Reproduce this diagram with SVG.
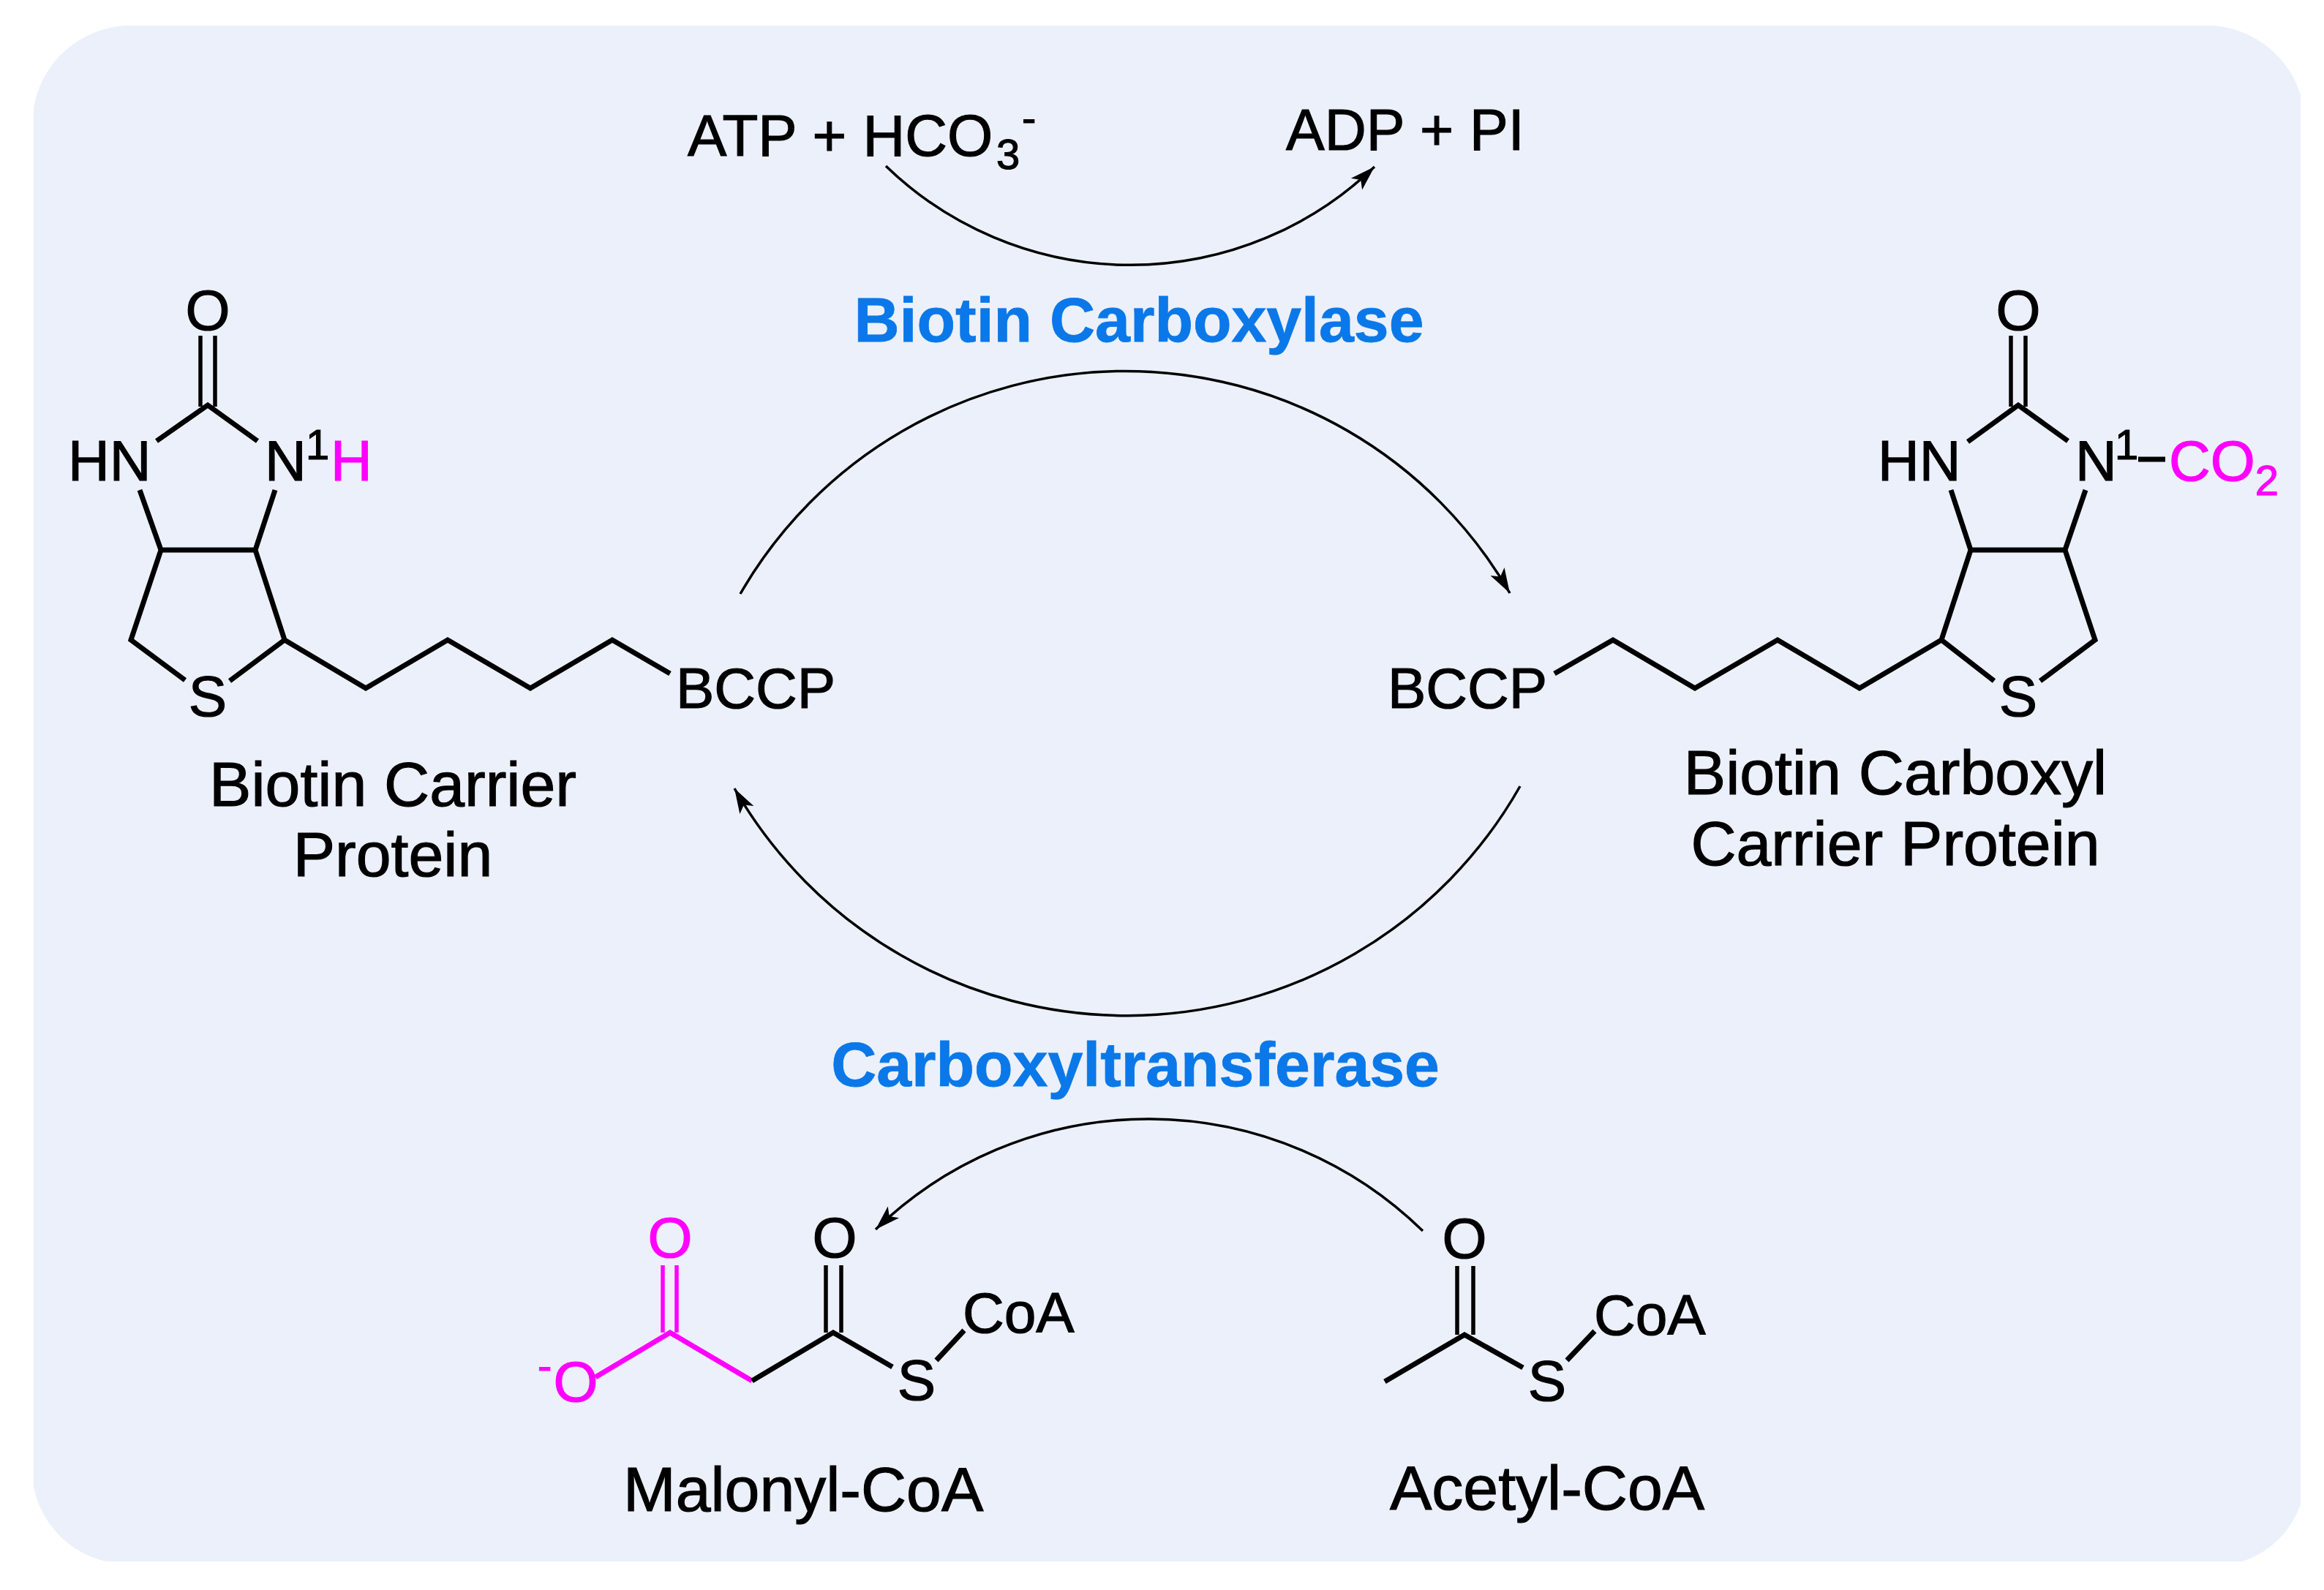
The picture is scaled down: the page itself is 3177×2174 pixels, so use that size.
<svg xmlns="http://www.w3.org/2000/svg" width="3177" height="2174" viewBox="0 0 3177 2174">
<style>
text{font-family:"Liberation Sans",Arial,sans-serif;font-size:78.5px;fill:#000;stroke:#000;stroke-width:1.2}
.lab{font-size:86px}
.enz{font-size:86px;font-weight:bold;fill:#0a78e8;stroke:#0a78e8;stroke-width:.8;text-anchor:middle}
.mid{text-anchor:middle}
.sup{font-size:58px}
.m{fill:#ff00ff;stroke:#ff00ff}
.b{fill:none;stroke:#000;stroke-width:7;stroke-linejoin:miter}
.d{fill:none;stroke:#000;stroke-width:5.5}
.bm{fill:none;stroke:#ff00ff;stroke-width:7}
.dm{fill:none;stroke:#ff00ff;stroke-width:5.5}
.arc0{fill:none;stroke:#000;stroke-width:3.5}
</style>
<defs>
<marker id="head" markerUnits="userSpaceOnUse" markerWidth="44" markerHeight="30" refX="34" refY="15" orient="auto">
<path d="M34,15 L0,4 L8,15 L0,26 Z" fill="#000"/>
</marker>
</defs>
<rect width="3177" height="2174" fill="#fff"/>
<path id="panel" d="M173,35 H3027 A135,135 0 0 1 3145,130 V2057 A125,125 0 0 1 3065,2135 H145 A130,130 0 0 1 46,2033 V147 A135,135 0 0 1 173,35 Z" fill="#ecf0fa"/>

<g id="connectors">
<path class="arc0" d="M1211,227 A481,481 0 0 0 1879,228" marker-end="url(#head)"/>
<path class="arc0" d="M1012,812 A607,607 0 0 1 2064,811" marker-end="url(#head)"/>
<path class="arc0" d="M2078,1075 A618,618 0 0 1 1004,1078" marker-end="url(#head)"/>
<path class="arc0" d="M1945,1683 A536,536 0 0 0 1197,1681" marker-end="url(#head)"/>
</g>

<g id="atp"><text x="940" y="213" style="font-size:80px">ATP + HCO<tspan x="1362" y="231" class="sup">3</tspan><tspan x="1397" y="181" class="sup">-</tspan></text></g>
<g id="adp"><text x="1758" y="205" style="font-size:79px">ADP + PI</text></g>
<g id="biotin-carboxylase"><text class="enz" x="1557" y="467">Biotin Carboxylase</text></g>
<g id="carboxyltransferase"><text class="enz" x="1552" y="1485">Carboxyltransferase</text></g>

<g id="biotin-carrier-protein">
<path class="d" d="M274,459V556M294,459V556"/>
<path class="b" d="M214,603L284,554L352,603M191,670L220,752H349L376,670M220,752L179,875L253,930M314,931L389,875L349,752M389,875L500,941L612,875L725,941L837,875L916,921"/>
<text class="mid" x="284" y="451">O</text>
<text x="93" y="657">HN</text>
<text x="362" y="657">N</text>
<text class="sup" x="418" y="628">1</text>
<text class="m" x="452" y="657">H</text>
<text class="mid" x="284" y="979">S</text>
<text x="924" y="968">BCCP</text>
<text class="lab mid" x="537" y="1102">Biotin Carrier</text>
<text class="lab mid" x="537" y="1198">Protein</text>
</g>

<g id="biotin-carboxyl-carrier-protein">
<path class="d" d="M2749,459V556M2769,459V556"/>
<path class="b" d="M2690,604L2759,554L2827,603M2667,670L2694,752H2823L2851,670M2694,752L2654,875L2726,931M2823,752L2864,875L2789,931M2654,875L2542,941L2430,875L2317,941L2205,875L2125,921M2923,628H2960"/>
<text class="mid" x="2759" y="451">O</text>
<text x="2567" y="657">HN</text>
<text x="2837" y="657">N</text>
<text class="sup" x="2891" y="628">1</text>
<text class="m" x="2965" y="657">CO<tspan class="sup" y="677">2</tspan></text>
<text class="mid" x="2759" y="979">S</text>
<text x="1897" y="968">BCCP</text>
<text class="lab mid" x="2591" y="1086">Biotin Carboxyl</text>
<text class="lab mid" x="2591" y="1183">Carrier Protein</text>
</g>

<g id="malonyl-coa">
<path class="dm" d="M906,1730V1822M925,1730V1822"/>
<path class="bm" d="M814,1883L916,1822L1028,1888"/>
<path class="d" d="M1129,1730V1822M1150,1730V1822"/>
<path class="b" d="M1028,1888L1139,1822L1220,1869M1280,1860L1318,1819"/>
<text class="m mid" x="916" y="1719">O</text>
<text class="mid" x="1141" y="1719">O</text>
<text class="m mid" x="787" y="1916">O</text>
<text class="m sup" x="735" y="1887">-</text>
<text class="mid" x="1253" y="1914">S</text>
<text x="1316" y="1822">CoA</text>
<text class="lab" x="852" y="2066">Malonyl-CoA</text>
</g>

<g id="acetyl-coa">
<path class="d" d="M1992,1731V1825M2014,1731V1825"/>
<path class="b" d="M1893,1889L2002,1825L2082,1870M2142,1860L2180,1820"/>
<text class="mid" x="2002" y="1720">O</text>
<text class="mid" x="2115" y="1915">S</text>
<text x="2179" y="1825">CoA</text>
<text class="lab" x="1900" y="2064">Acetyl-CoA</text>
</g>
</svg>
